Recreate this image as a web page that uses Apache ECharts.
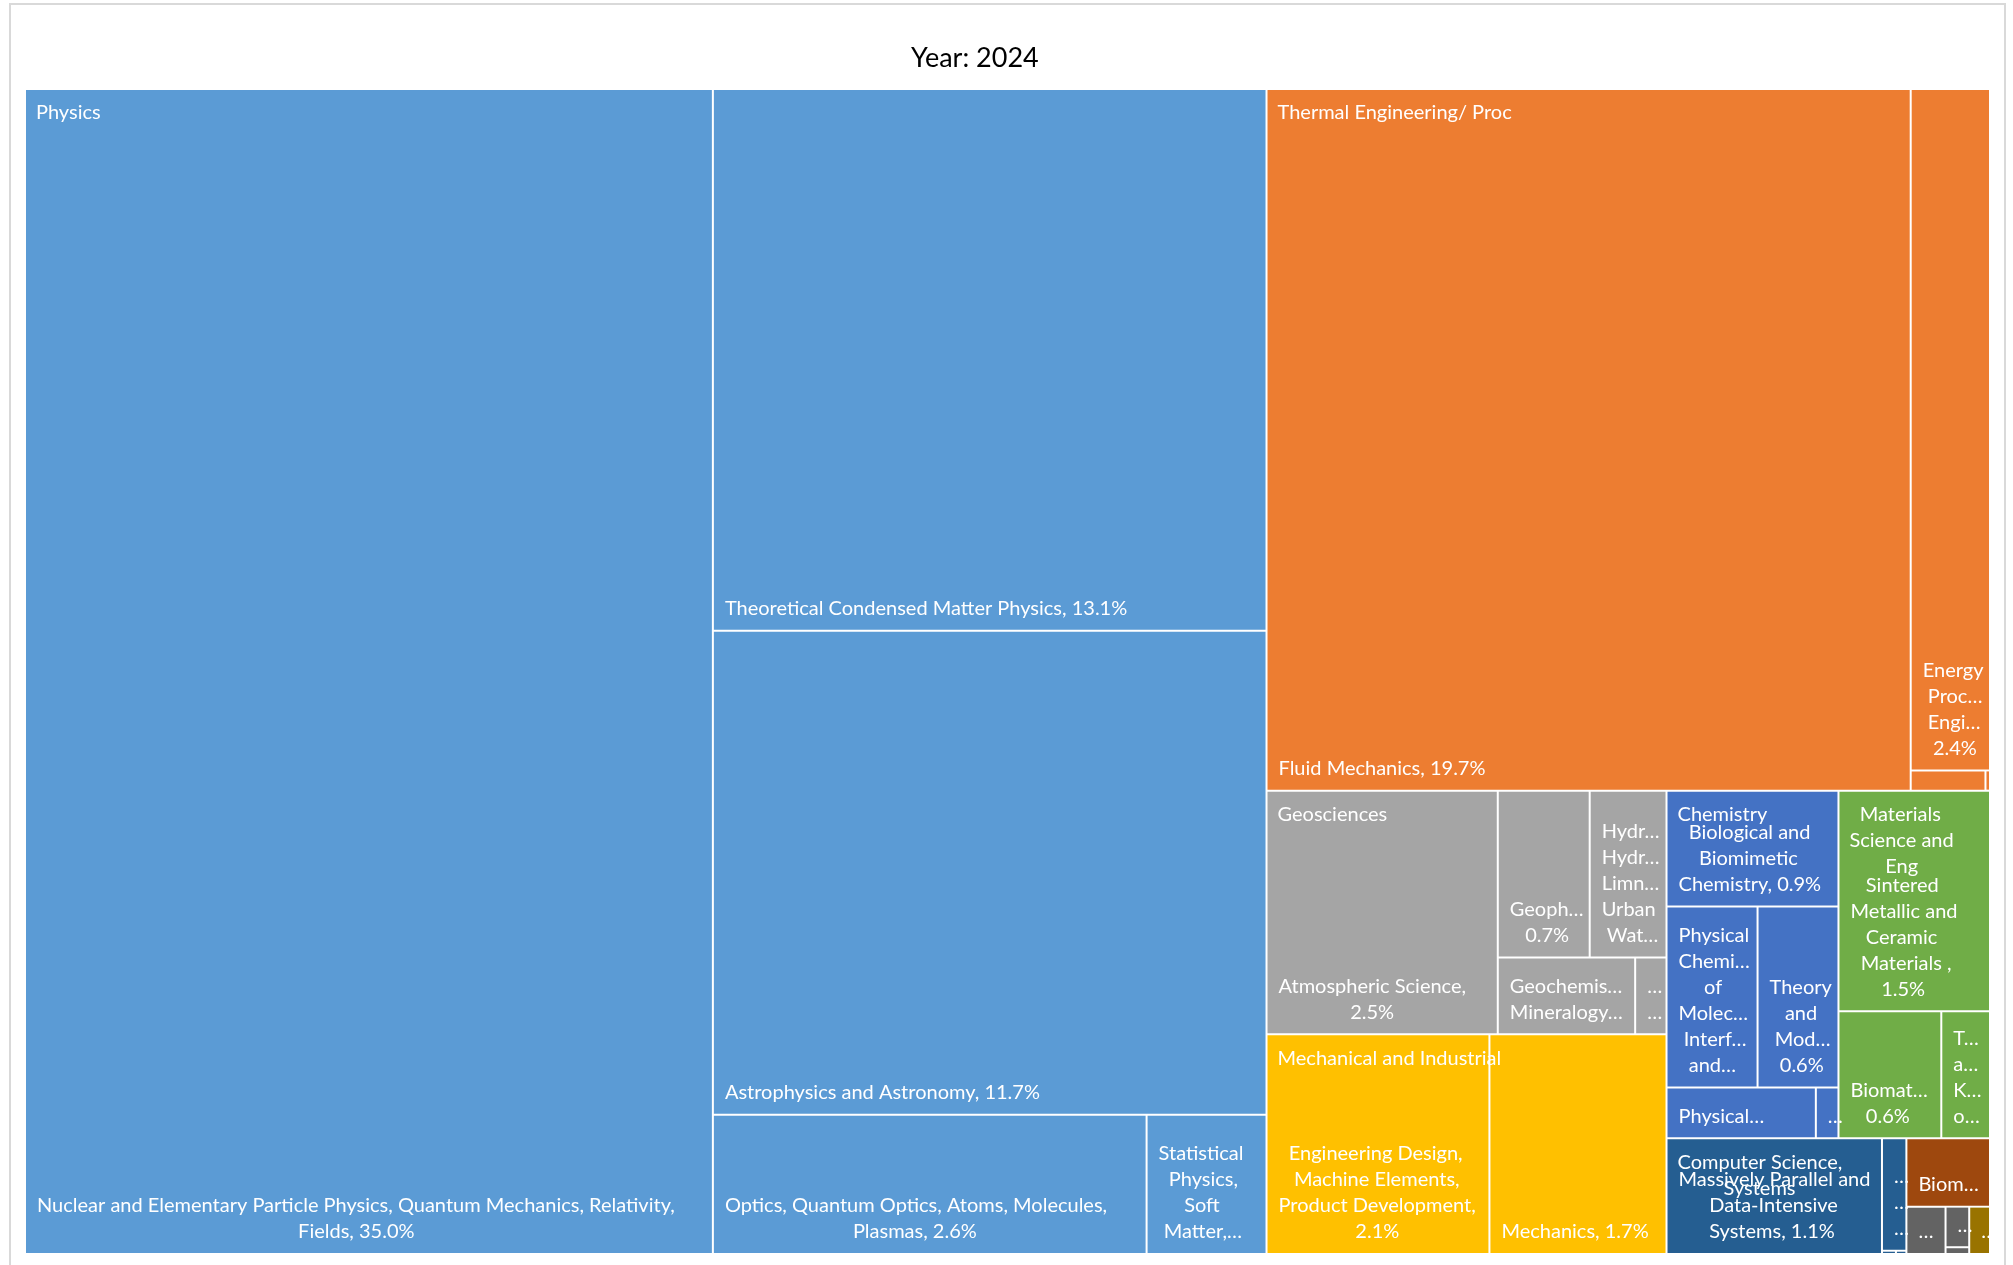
<!DOCTYPE html>
<html>
<head>
<meta charset="utf-8">
<title>Year: 2024</title>
<script src="https://cdn.jsdelivr.net/npm/echarts@6/dist/echarts.min.js"></script>
<style>
  html, body { margin: 0; padding: 0; background: #ffffff; }
  #chart { width: 2013px; height: 1265px; }
</style>
</head>
<body>
<div id="chart"></div>
<script>
// ---------------------------------------------------------------------------
// Data: share of projects per subject area (percent of all projects), 2024
// ---------------------------------------------------------------------------
const chartTitle = 'Year: 2024';

const groupNames = [
  'Physics',
  'Thermal Engineering/ Process Engineering',
  'Geosciences',
  'Mechanical and Industrial Engineering',
  'Chemistry',
  'Materials Science and Engineering',
  'Computer Science, Systems and Electrical Engineering',
  'Medicine',
  'Construction Engineering and Architecture',
  'Biology'
];

const groupColors = [
  '#5B9BD5', '#ED7D31', '#A5A5A5', '#FFC000', '#4472C4',
  '#70AD47', '#255E91', '#9E480E', '#636363', '#997300'
];

const physicsNames = [
  'Nuclear and Elementary Particle Physics, Quantum Mechanics, Relativity, Fields',
  'Theoretical Condensed Matter Physics',
  'Astrophysics and Astronomy',
  'Optics, Quantum Optics, Atoms, Molecules, Plasmas',
  'Statistical Physics, Soft Matter, Biological Physics, Nonlinear Dynamics'
];
const physicsShares = [35.0, 13.1, 11.7, 2.64, 0.73];

const thermalNames = [
  'Fluid Mechanics',
  'Energy Process Engineering',
  'Technical Thermodynamics',
  'Chemical and Thermal Process Engineering'
];
const thermalShares = [19.74, 2.36, 0.066, 0.004];

const geoNames = [
  'Atmospheric Science',
  'Geophysics',
  'Hydrogeology, Hydrology, Limnology, Urban Water Management',
  'Geochemistry, Mineralogy and Crystallography',
  'Geology and Palaeontology'
];
const geoShares = [2.46, 0.67, 0.56, 0.46, 0.105];

const mechNames = [
  'Engineering Design, Machine Elements, Product Development',
  'Mechanics'
];
const mechShares = [2.14, 1.70];

const chemNames = [
  'Biological and Biomimetic Chemistry',
  'Physical Chemistry of Molecules, Interfaces and Liquids',
  'Theory and Modelling',
  'Physical Chemistry of Solids and Surfaces',
  'Analytical Chemistry'
];
const chemShares = [0.87, 0.72, 0.64, 0.33, 0.05];

const materialsNames = [
  'Sintered Metallic and Ceramic Materials ',
  'Biomaterials',
  'Thermodynamics and Kinetics of Materials'
];
const materialsShares = [1.46, 0.57, 0.27];

const computingNames = [
  'Massively Parallel and Data-Intensive Systems',
  'Security and Dependability',
  'Software Engineering and Programming Languages',
  'Computer Architecture and Embedded Systems'
];
const computingShares = [1.09, 0.12, 0.002, 0.0015];

const medicineNames = ['Biomedical Systems Technology'];
const medicineShares = [0.25];

const constructionNames = ['Building Materials', 'Structural Engineering', 'Geotechnics'];
const constructionShares = [0.081, 0.042, 0.007];

const biologyNames = ['Biophysics'];
const biologyShares = [0.043];

const leafNames = [physicsNames, thermalNames, geoNames, mechNames, chemNames,
  materialsNames, computingNames, medicineNames, constructionNames, biologyNames];
const leafShares = [physicsShares, thermalShares, geoShares, mechShares, chemShares,
  materialsShares, computingShares, medicineShares, constructionShares, biologyShares];

// ---------------------------------------------------------------------------
// Styling constants
// ---------------------------------------------------------------------------
const FONT_FAMILY = 'Lato';
const FONT_SIZE = 20;
const LINE_H = 26;
const LEAF_BORDER = 1;
const LEAF_PAD = [0, 5, 8, 11];     // top, right, bottom, left
const LEAF_TOP_RESERVE = 10;        // free space kept above wrapped leaf text
const GROUP_PAD = [11, 9, 0, 11];
const GROUP_LABEL_CHARS = 25;
const SQUARE_RATIO = 1.2;
const ELLIPSIS = '\u2026';
const PLOT = { left: 25, top: 89, width: 1965, height: 1165 };

const total = leafShares.flat().reduce((a, b) => a + b, 0);

// text measuring with the same font the labels use
const measureCtx = document.createElement('canvas').getContext('2d');
measureCtx.font = FONT_SIZE + 'px ' + FONT_FAMILY;
const measure = s => measureCtx.measureText(s).width;

function fitWithEllipsis(s, w) {
  let t = s;
  while (t.length && measure(t + ELLIPSIS) > w) t = t.slice(0, -1);
  return t + ELLIPSIS;
}

// word wrap; words too long for the box are cut with an ellipsis,
// and the last visible line gets an ellipsis when text is left over
function wrapWords(text, availW, maxLines) {
  const words = text.split(' ').filter(Boolean);
  const lines = [];
  let cur = '';
  for (const word of words) {
    const cand = cur ? cur + ' ' + word : word;
    if (measure(cand) <= availW) { cur = cand; continue; }
    if (cur) lines.push(cur);
    cur = '';
    if (measure(word) <= availW) cur = word;
    else lines.push(fitWithEllipsis(word, availW));
  }
  if (cur) lines.push(cur);
  if (lines.length > maxLines) {
    const kept = lines.slice(0, maxLines);
    const last = kept[maxLines - 1];
    if (!last.endsWith(ELLIPSIS)) kept[maxLines - 1] = fitWithEllipsis(last, availW);
    return kept;
  }
  return lines;
}

// centre the lines of a wrapped label against its widest line
function centreLines(lines) {
  if (lines.length < 2) return lines.join('\n');
  const widths = lines.map(measure);
  const block = Math.max.apply(null, widths);
  const sp = measure(' ');
  return lines.map((l, i) =>
    ' '.repeat(Math.max(0, Math.round((block - widths[i]) / 2 / sp))) + l
  ).join('\n');
}

const chart = echarts.init(document.getElementById('chart'));

function nodeLayout(params) {
  const series = chart.getModel().getSeriesByIndex(params.seriesIndex);
  return series ? series.getData().getItemLayout(params.dataIndex) : null;
}

function leafLabel(params) {
  const lay = nodeLayout(params);
  if (!lay) return '';
  const w = lay.width - 2 * LEAF_BORDER;
  const h = lay.height - 2 * LEAF_BORDER;
  if (h - LEAF_PAD[0] - LEAF_PAD[2] < LINE_H) return '';
  const availW = w - LEAF_PAD[1] - LEAF_PAD[3];
  const maxLines = Math.max(1, Math.floor((h - LEAF_TOP_RESERVE - LEAF_PAD[2]) / LINE_H));
  const text = params.name + ', ' + (params.value / total * 100).toFixed(1) + '%';
  return centreLines(wrapWords(text, availW, maxLines));
}

function groupLabel(params) {
  const lay = nodeLayout(params);
  if (!lay || lay.width < 100 || lay.height < 40) return '';
  const availW = lay.width - GROUP_PAD[1] - GROUP_PAD[3];
  return centreLines(wrapWords(params.name.slice(0, GROUP_LABEL_CHARS), availW, 99));
}

function buildTree(withColor) {
  return groupNames.map((g, i) => {
    const node = {
      name: g,
      children: leafNames[i].map((n, j) => ({ name: n, value: leafShares[i][j] }))
    };
    if (withColor) node.itemStyle = { color: groupColors[i] };
    return node;
  });
}

const clear = 'rgba(0,0,0,0)';
const labelText = {
  color: '#ffffff',
  fontFamily: FONT_FAMILY,
  fontSize: FONT_SIZE,
  lineHeight: LINE_H,
  overflow: 'none'
};

chart.setOption({
  animation: false,
  textStyle: { fontFamily: FONT_FAMILY },
  title: {
    text: chartTitle,
    left: 911,
    top: 45,
    padding: 0,
    textStyle: { fontFamily: FONT_FAMILY, fontSize: 27, fontWeight: 'normal', color: '#000000' }
  },
  graphic: [{
    type: 'rect',
    silent: true,
    z: -10,
    shape: { x: 10, y: 4, width: 1995, height: 1300 },
    style: { fill: 'none', stroke: '#d9d9d9', lineWidth: 2 }
  }],
  series: [
    {
      // subjects, coloured by subject area
      type: 'treemap',
      z: 2,
      left: PLOT.left, top: PLOT.top, width: PLOT.width, height: PLOT.height,
      squareRatio: SQUARE_RATIO,
      roam: false,
      nodeClick: false,
      breadcrumb: { show: false },
      itemStyle: { borderColor: '#ffffff', borderWidth: 0, gapWidth: 0 },
      levels: [
        { itemStyle: { borderWidth: 0, gapWidth: 0, borderColor: '#ffffff' } },
        { itemStyle: { borderWidth: 0, gapWidth: 0, borderColor: '#ffffff' } },
        { itemStyle: { borderWidth: LEAF_BORDER, gapWidth: 0, borderColor: '#ffffff' } }
      ],
      upperLabel: { show: false },
      label: Object.assign({
        show: true,
        position: 'insideBottomLeft',
        distance: 0,
        padding: LEAF_PAD,
        formatter: leafLabel
      }, labelText),
      data: buildTree(true)
    },
    {
      // subject-area captions laid over the same rectangles
      type: 'treemap',
      z: 6,
      left: PLOT.left, top: PLOT.top, width: PLOT.width, height: PLOT.height,
      squareRatio: SQUARE_RATIO,
      roam: false,
      silent: true,
      nodeClick: false,
      leafDepth: 1,
      drillDownIcon: '',
      breadcrumb: { show: false },
      itemStyle: { color: clear, borderColor: clear, borderWidth: 0, gapWidth: 0 },
      levels: [
        { itemStyle: { borderWidth: 0, gapWidth: 0, borderColor: clear, color: clear } },
        { itemStyle: { borderWidth: 0, gapWidth: 0, borderColor: clear, color: clear } },
        { itemStyle: { borderWidth: 0, gapWidth: 0, borderColor: clear, color: clear } }
      ],
      upperLabel: { show: false },
      label: Object.assign({
        show: true,
        position: 'insideTopLeft',
        distance: 0,
        padding: GROUP_PAD,
        formatter: groupLabel
      }, labelText),
      data: buildTree(false)
    }
  ]
});
</script>
</body>
</html>
